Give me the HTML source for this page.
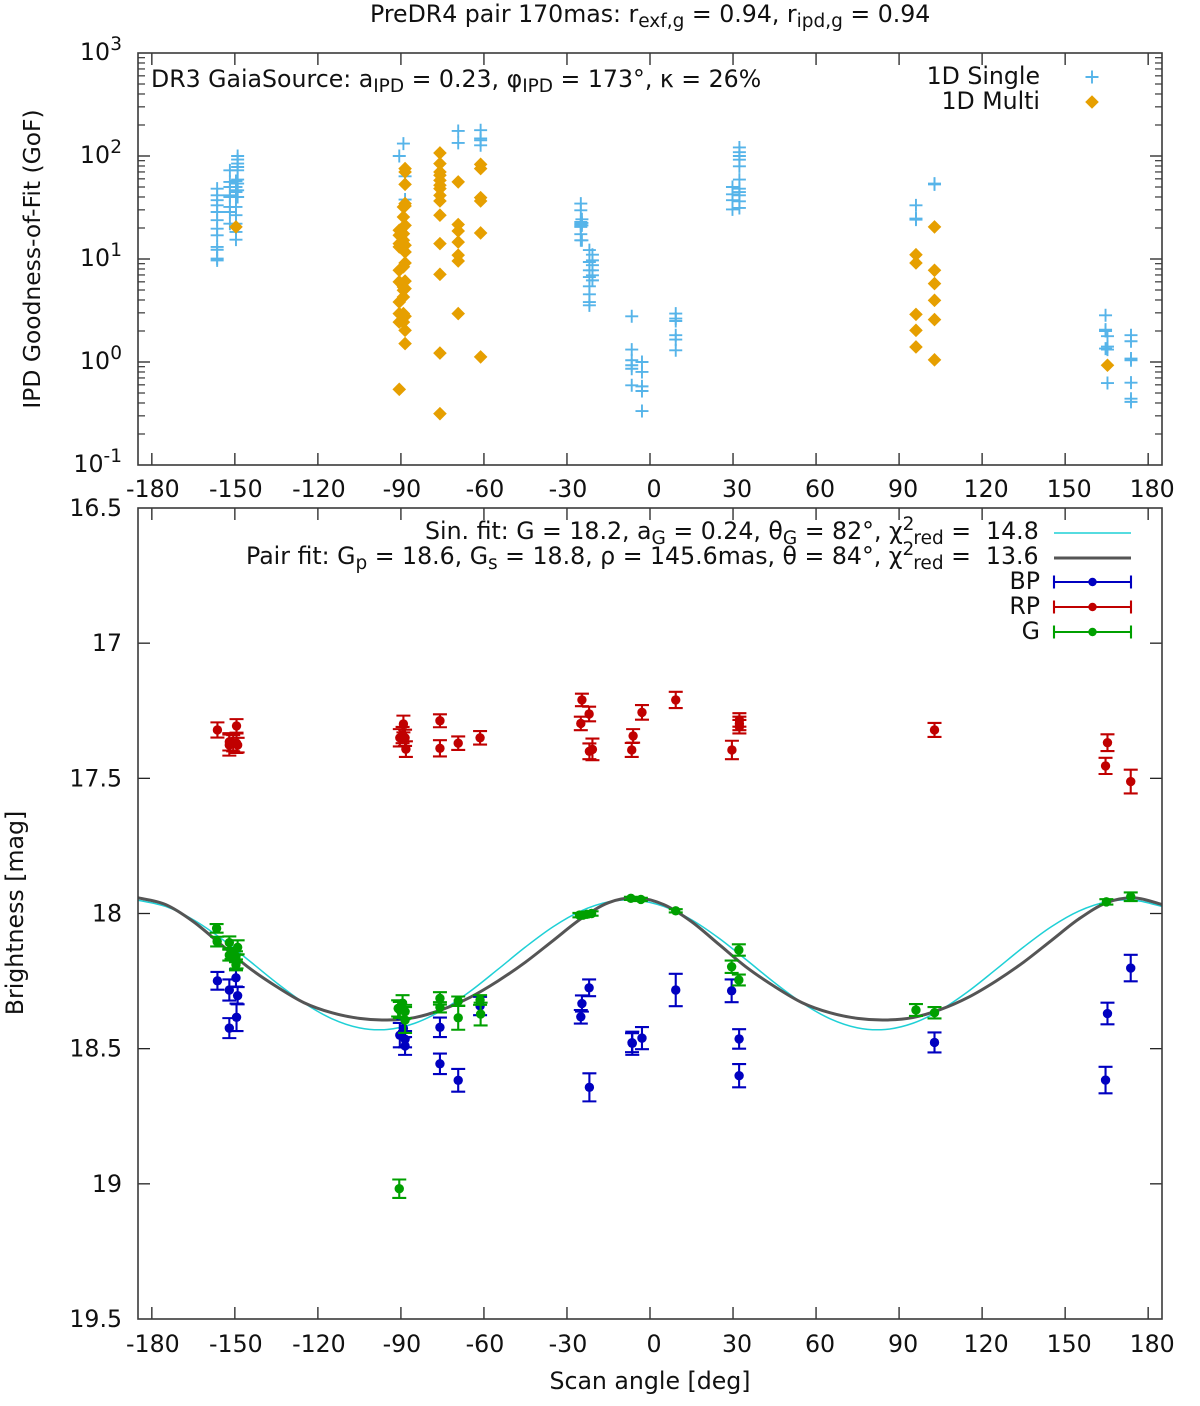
<!DOCTYPE html>
<html lang="en">
<head>
<meta charset="utf-8">
<title>IPD Goodness-of-Fit and Brightness vs Scan Angle</title>
<style>
html,body{margin:0;padding:0;background:#fff;}
svg{display:block;}
text{font-family:"DejaVu Sans","Liberation Sans",sans-serif;font-size:23.65px;fill:#111;white-space:pre;}
</style>
</head>
<body>
<svg id="chart" xmlns="http://www.w3.org/2000/svg" width="1200" height="1406" viewBox="0 0 1200 1406">
<rect x="0" y="0" width="1200" height="1406" fill="#fff"/>
<text x="370" y="22">PreDR4 pair 170mas: r<tspan font-size="18.5" dy="5">exf,g</tspan><tspan dy="-5"> = 0.94, r</tspan><tspan font-size="18.5" dy="5">ipd,g</tspan><tspan dy="-5"> = 0.94</tspan></text>
<text x="151" y="87">DR3 GaiaSource: a<tspan font-size="18.5" dy="5">IPD</tspan><tspan dy="-5"> = 0.23, φ</tspan><tspan font-size="18.5" dy="5">IPD</tspan><tspan dy="-5"> = 173°, κ = 26%</tspan></text>
<text transform="translate(40,259) rotate(-90)" text-anchor="middle" style="font-size:23.4px">IPD Goodness-of-Fit (GoF)</text>
<text transform="translate(23,913) rotate(-90)" text-anchor="middle">Brightness [mag]</text>
<text x="650" y="1389" text-anchor="middle">Scan angle [deg]</text>
<text x="1040" y="84" text-anchor="end">1D Single</text>
<text x="1040" y="109" text-anchor="end">1D Multi</text>
<text x="425" y="539">Sin. fit: G = 18.2, a<tspan font-size="18.5" dy="5">G</tspan><tspan dy="-5"> = 0.24, θ</tspan><tspan font-size="18.5" dy="5">G</tspan><tspan dy="-5"> = 82°, χ</tspan><tspan font-size="18.5" dy="-9">2</tspan><tspan font-size="18.5" dx="-1" dy="14">red</tspan><tspan dy="-5"> =  14.8</tspan></text>
<text x="246" y="564">Pair fit: G<tspan font-size="18.5" dy="5">p</tspan><tspan dy="-5"> = 18.6, G</tspan><tspan font-size="18.5" dy="5">s</tspan><tspan dy="-5"> = 18.8, ρ = 145.6mas, θ = 84°, χ</tspan><tspan font-size="18.5" dy="-9">2</tspan><tspan font-size="18.5" dx="-1" dy="14">red</tspan><tspan dy="-5"> =  13.6</tspan></text>
<text x="1040" y="589" text-anchor="end">BP</text>
<text x="1040" y="614" text-anchor="end">RP</text>
<text x="1040" y="639" text-anchor="end">G</text>
<g id="layer"></g>
</svg>
<script>
const xTickValues = [-180,-150,-120,-90,-60,-30,0,30,60,90,120,150,180];
const logTickExponents = [-1,0,1,2,3];
const logMinorMultipliers = [2,3,4,5,6,7,8,9];
const magTickValues = [16.5,17,17.5,18,18.5,19,19.5];

const singleAngles = [
-156.4,-156.4,-156.4,-156.4,-156.4,-156.4,-156.4,-156.4,-156.4,-156.4,-156.4,-156.4,
-151.8,-151.8,-151.8,-151.8,-151.8,-151.8,-151.8,-151.8,
-149.6,-149.6,-149.6,-149.6,-149.6,-149.6,-149.6,-149.6,-149.6,-149.6,-149.6,
-149,-149,-149,-149,-149,-149,-149,-149,-149,
-90.6,-89.1,-88.5,-88.5,
-69.3,-69.3,-61.2,-61.2,-61.2,-61.2,
-25,-25,-25,-25,-25,-25,-25,-25,-24.6,-24.6,-24.6,-24.6,
-21.9,-21.9,-21.9,-21.9,-21.9,-21.9,-21.9,-21.9,-20.8,-20.8,-20.8,-20.8,-20.8,-20.8,
-6.6,-6.6,-6.6,-6.6,-6.6,-6.6,-2.9,-2.9,-2.9,-2.9,-2.9,
9.3,9.3,9.3,9.3,9.3,9.3,
29.8,29.8,29.8,29.8,
32.3,32.3,32.3,32.3,32.3,32.3,32.3,32.3,32.3,32.3,32.3,
96.1,96.1,96.1,102.8,102.8,
164.6,164.6,164.6,164.6,165.3,165.3,165.3,165.3,
173.8,173.8,173.8,173.8,173.8,173.8,173.8];
const singleGoF = [
48.2,41.5,37.2,33.2,28.6,23.8,19.7,17,13.1,12.3,10.1,9.7,
72.6,56,50,41.5,40,32,28.6,22,
57.2,54,50,46.4,44.7,40,32,26.6,22,18.3,15.4,
100,92.3,84.4,78.2,72.6,59,54,46.4,40,
100,132,63.5,37.8,
175,134,178,148,142,127,
34.5,29.7,22.9,22,21.2,20.5,17.4,15.2,24.3,22.4,21.2,15.2,
12.2,9.35,7.77,6.68,5.43,4.54,3.82,3.55,11,9.7,8.7,7.77,6.95,6.2,
2.78,1.32,1.04,0.93,0.86,0.594,1,0.8,0.58,0.523,0.334,
2.95,2.64,2.5,1.82,1.65,1.3,
50,42.5,37.2,30.3,
121,109,100,92,79.4,59,48.2,44.7,41.5,36.3,31.3,
33.2,24.7,24.1,54,53,
2.84,2.06,2,1.35,1.78,1.41,1.32,0.625,
1.82,1.59,1.08,1.04,0.63,0.44,0.41];

const multiAngles = [
-149.6,
-90.6,-90.6,-90.6,-90.6,-90.6,-90.6,-90.6,-90.6,-90.6,-90.6,
-89.1,-89.1,-89.1,-89.1,-89.1,-89.1,-89.1,-89.1,-89.1,-89.1,-89.1,-89.1,
-88.5,-88.5,-88.5,-88.5,-88.5,-88.5,-88.5,-88.5,-88.5,-88.5,-88.5,-88.5,-88.5,-88.5,
-75.9,-75.9,-75.9,-75.9,-75.9,-75.9,-75.9,-75.9,-75.9,-75.9,-75.9,-75.9,-75.9,-75.9,
-69.3,-69.3,-69.3,-69.3,-69.3,-69.3,-69.3,
-61.2,-61.2,-61.2,-61.2,-61.2,-61.2,
96.1,96.1,96.1,96.1,96.1,
102.8,102.8,102.8,102.8,102.8,102.8,
165.3];
const multiGoF = [
20.5,
19,17,14.1,13.1,7.77,6,3.82,2.95,2.44,0.543,
32,25.6,20.5,17.6,15.2,14.1,8.4,5.35,4.97,4.28,2.95,2.44,
75.5,70,53.1,34.5,32.7,21.2,13.6,11.7,9.15,6.1,5.16,2.78,2.03,1.51,
107,84.4,70,65,58,52,48.2,41.5,36.6,26.6,14.1,7.1,1.22,0.315,
56,21.6,18.7,14.6,10.9,9.57,2.95,
83,75.5,39.4,36.6,17.9,1.12,
11,9.15,2.9,2.03,1.4,
20.5,7.77,5.77,3.97,2.58,1.05,
0.93];

const sinFitAngles = [-185,-175,-165,-155,-145,-135,-125,-115,-105,-95,-85,-75,-65,-55,-45,-35,-25,-15,-5,5,15,25,35,45,55,65,75,85,95,105,115,125,135,145,155,165,175,185];
const sinFitMags = [17.951,17.974,18.023,18.092,18.173,18.256,18.331,18.389,18.423,18.429,18.406,18.357,18.288,18.207,18.124,18.049,17.991,17.957,17.951,17.974,18.023,18.092,18.173,18.256,18.331,18.389,18.423,18.429,18.406,18.357,18.288,18.207,18.124,18.049,17.991,17.957,17.951,17.974];

const pairFitAngles = [-185,-175,-165,-155,-145,-135,-125,-115,-105,-95,-85,-75,-65,-55,-45,-35,-25,-15,-5,5,15,25,35,45,55,65,75,85,95,105,115,125,135,145,155,165,175,185];
const pairFitMags = [17.942,17.967,18.03,18.115,18.2,18.27,18.33,18.367,18.388,18.394,18.385,18.355,18.31,18.25,18.18,18.1,18.02,17.96,17.942,17.967,18.03,18.115,18.2,18.27,18.33,18.367,18.388,18.394,18.385,18.355,18.31,18.25,18.18,18.1,18.02,17.96,17.942,17.967];

const bpAngles = [-156.3,-152,-149.6,-149,-152,-149.4,-90.4,-89.1,-88.5,-88.5,-75.9,-75.9,-69.3,-61.4,-22,-24.6,-25,-21.9,-6.5,-6.4,-2.9,9.3,29.5,32.2,32.2,102.8,173.7,165.3,164.6];
const bpMags = [18.249,18.283,18.238,18.304,18.424,18.384,18.45,18.425,18.465,18.49,18.421,18.556,18.617,18.342,18.275,18.333,18.382,18.643,18.478,18.48,18.461,18.283,18.286,18.464,18.6,18.477,18.202,18.37,18.616];
const bpErrs = [0.033,0.039,0.032,0.032,0.037,0.051,0.045,0.034,0.03,0.033,0.036,0.038,0.042,0.034,0.031,0.03,0.025,0.052,0.035,0.043,0.041,0.06,0.042,0.036,0.043,0.037,0.049,0.04,0.049];

const rpAngles = [-156.3,-149.4,-152,-152,-150.6,-149.4,-149,-89.1,-90.4,-89.4,-88.5,-88.2,-75.9,-75.9,-69.3,-61.4,-24.6,-22,-25,-20.8,-21.9,-2.9,-6.1,-6.6,9.3,29.6,32.3,32.3,32.3,102.8,165.3,164.6,173.7];
const rpMags = [17.321,17.306,17.365,17.377,17.37,17.37,17.377,17.299,17.35,17.34,17.35,17.392,17.287,17.389,17.37,17.35,17.21,17.262,17.297,17.393,17.4,17.256,17.343,17.395,17.21,17.395,17.284,17.297,17.309,17.321,17.368,17.454,17.512];
const rpErrs = [0.028,0.025,0.032,0.039,0.03,0.036,0.027,0.031,0.032,0.03,0.03,0.029,0.024,0.03,0.025,0.025,0.023,0.027,0.025,0.04,0.029,0.027,0.025,0.026,0.03,0.034,0.025,0.025,0.025,0.026,0.031,0.03,0.044];

const gAngles = [-156.6,-156.4,-152,-151.2,-152,-149,-149.6,-149.4,-149.6,-89.4,-91,-90.4,-88.5,-88.5,-90.6,-75.9,-75.9,-69.3,-69.3,-61.4,-61.2,-25.5,-24.2,-22.8,-21.1,-6.9,-3.3,9.3,32.1,29.5,32.1,96.1,102.8,164.9,173.7];
const gMags = [18.055,18.104,18.108,18.148,18.154,18.125,18.16,18.178,18.19,18.332,18.351,18.357,18.363,18.394,19.018,18.314,18.347,18.324,18.386,18.32,18.372,18.006,18.006,18.003,18,17.944,17.948,17.99,18.135,18.197,18.246,18.357,18.367,17.957,17.938];
const gErrs = [0.016,0.018,0.023,0.02,0.02,0.026,0.02,0.025,0.02,0.03,0.03,0.03,0.025,0.048,0.034,0.023,0.019,0.017,0.044,0.018,0.042,0.008,0.008,0.008,0.008,0.006,0.006,0.006,0.021,0.023,0.02,0.022,0.021,0.01,0.016];

const BOX = {left:138, right:1162};
const TOP = {top:53, bottom:465};
const BOT = {top:508, bottom:1319};
const PX_PER_DEG = (BOX.right - BOX.left) / 370;
const NS = 'http://www.w3.org/2000/svg';
const layer = document.getElementById('layer');

function xScale(a){ return BOX.left + (a + 185) * PX_PER_DEG; }
function yLog(v){ return TOP.bottom - (Math.log10(v) + 1) * (TOP.bottom - TOP.top) / 4; }
function yMag(m){ return BOT.top + (m - 16.5) * (BOT.bottom - BOT.top) / 3; }

function make(tag, attrs){
  const el = document.createElementNS(NS, tag);
  for (const k in attrs) el.setAttribute(k, attrs[k]);
  
  layer.appendChild(el);
  return el;
}
function line(x1,y1,x2,y2,stroke,w){
  return make('line',{x1:x1,y1:y1,x2:x2,y2:y2,stroke:stroke,'stroke-width':w});
}
function smoothPath(xs, ys){
  const n = xs.length;
  let d = 'M' + xs[0].toFixed(2) + ' ' + ys[0].toFixed(2);
  for (let i = 0; i < n - 1; i++){
    const x0 = xs[Math.max(i-1,0)], y0 = ys[Math.max(i-1,0)];
    const x3 = xs[Math.min(i+2,n-1)], y3 = ys[Math.min(i+2,n-1)];
    const c1x = xs[i] + (xs[i+1]-x0)/6, c1y = ys[i] + (ys[i+1]-y0)/6;
    const c2x = xs[i+1] - (x3-xs[i])/6, c2y = ys[i+1] - (y3-ys[i])/6;
    d += 'C' + [c1x,c1y,c2x,c2y,xs[i+1],ys[i+1]].map(function(v){return v.toFixed(2);}).join(' ');
  }
  return d;
}

/* ---------- axes ---------- */
const TICK = '#222';
for (const t of xTickValues){
  const x = xScale(t);
  const labelX = x + (t < 0 ? 1 : 4);
  const a = line(x, TOP.top, x, TOP.top+12, TICK, 1.3);
  
  const b = line(x, TOP.bottom, x, TOP.bottom-12, TICK, 1.3);
  
  const c = line(x, BOT.top, x, BOT.top+12, TICK, 1.3);
  
  const d = line(x, BOT.bottom, x, BOT.bottom-12, TICK, 1.3);
  
  const l1 = make('text',{x:labelX, y:497, 'text-anchor':'middle'});
  l1.textContent = String(t);
  
  const l2 = make('text',{x:labelX, y:1352, 'text-anchor':'middle'});
  l2.textContent = String(t);
  
}
for (const e of logTickExponents){
  const y = yLog(Math.pow(10,e));
  if (e > -1 && e < 3){
    const a = line(BOX.left, y, BOX.left+12, y, TICK, 1.3);
    
    const b = line(BOX.right, y, BOX.right-12, y, TICK, 1.3);
    
  }
  const lab = make('text',{x:(e < 0 ? 103.5 : 110), y:y+7, 'text-anchor':'end'});
  lab.textContent = '10';
  
  const sup = make('text',{x:122, y:y-3, 'font-size':'18.5', 'text-anchor':'end', style:'font-size:18.5px'});
  sup.textContent = String(e);
  
  if (e < 3){
    for (const m of logMinorMultipliers){
      const ym = yLog(m*Math.pow(10,e));
      const c = line(BOX.left, ym, BOX.left+7, ym, TICK, 1.1);
      
      const d = line(BOX.right, ym, BOX.right-7, ym, TICK, 1.1);
      
    }
  }
}
for (const m of magTickValues){
  const y = yMag(m);
  if (m > 16.5 && m < 19.5){
    const a = line(BOX.left, y, BOX.left+12, y, TICK, 1.3);
    
    const b = line(BOX.right, y, BOX.right-12, y, TICK, 1.3);
    
  }
  const lab = make('text',{x:122, y:y+8, 'text-anchor':'end'});
  lab.textContent = String(m);
  
}

/* ---------- top panel ---------- */
function plus(cx, cy){
  const r = 6.5;
  return make('path',{d:'M'+(cx-r)+' '+cy+'H'+(cx+r)+'M'+cx+' '+(cy-r)+'V'+(cy+r), stroke:'#56b4e9','stroke-width':1.9, fill:'none'});
}
function diamond(cx, cy){
  const r = 6.8;
  return make('path',{d:'M'+cx+' '+(cy-r)+'L'+(cx+r)+' '+cy+'L'+cx+' '+(cy+r)+'L'+(cx-r)+' '+cy+'Z', fill:'#e69f00'});
}
singleAngles.forEach(function(a,i){
  const p = plus(xScale(a), yLog(singleGoF[i]));
  
});
multiAngles.forEach(function(a,i){
  const p = diamond(xScale(a), yLog(multiGoF[i]));
  
});
const legP = plus(1092, 77);

const legD = diamond(1092, 102);


/* ---------- bottom panel ---------- */
const sinCurve = make('path',{d:smoothPath(sinFitAngles.map(xScale), sinFitMags.map(yMag)), fill:'none', stroke:'#1fd0d6','stroke-width':1.5});

const pairCurve = make('path',{d:smoothPath(pairFitAngles.map(xScale), pairFitMags.map(yMag)), fill:'none', stroke:'#555','stroke-width':3});


function errPoint(a, m, e, color){
  const x = xScale(a), y = yMag(m), yu = yMag(m-e), yd = yMag(m+e);
  const cap = 7;
  return make('path',{d:'M'+x+' '+yu+'V'+yd+'M'+(x-cap)+' '+yu+'H'+(x+cap)+'M'+(x-cap)+' '+yd+'H'+(x+cap), stroke:color,'stroke-width':2.1, fill:'none'});
}
function dot(cx, cy, color){
  return make('circle',{cx:cx, cy:cy, r:4.7, fill:color});
}
const BP_C = '#0000c0', RP_C = '#c00000', G_C = '#00a000';
bpAngles.forEach(function(a,i){
  const g = errPoint(a, bpMags[i], bpErrs[i], BP_C);
  
  const d = dot(xScale(a), yMag(bpMags[i]), BP_C);
  
});
rpAngles.forEach(function(a,i){
  const g = errPoint(a, rpMags[i], rpErrs[i], RP_C);
  
  const d = dot(xScale(a), yMag(rpMags[i]), RP_C);
  
});
gAngles.forEach(function(a,i){
  const g = errPoint(a, gMags[i], gErrs[i], G_C);
  
  const d = dot(xScale(a), yMag(gMags[i]), G_C);
  
});

/* legend samples */
const ls1 = line(1054, 533, 1131, 533, '#1fd0d6', 1.5);

const ls2 = line(1054, 558, 1131, 558, '#555', 3);

function legendErr(y, color){
  return make('path',{d:'M1054 '+y+'H1131M1054 '+(y-6.5)+'V'+(y+6.5)+'M1131 '+(y-6.5)+'V'+(y+6.5), stroke:color,'stroke-width':2.1, fill:'none'});
}
const le1 = legendErr(582, BP_C);

const ld1 = make('circle',{cx:1092.5, cy:582, r:4.2, fill:BP_C});

const le2 = legendErr(607, RP_C);

const ld2 = make('circle',{cx:1092.5, cy:607, r:4.2, fill:RP_C});

const le3 = legendErr(632, G_C);

const ld3 = make('circle',{cx:1092.5, cy:632, r:4.2, fill:G_C});


/* plot frames drawn last so curves clip under the border */
const f1 = make('rect',{x:BOX.left, y:TOP.top, width:BOX.right-BOX.left, height:TOP.bottom-TOP.top, fill:'none', stroke:'#3a3a3a','stroke-width':1.6});

const f2 = make('rect',{x:BOX.left, y:BOT.top, width:BOX.right-BOX.left, height:BOT.bottom-BOT.top, fill:'none', stroke:'#3a3a3a','stroke-width':1.6});

</script>
</body>
</html>
